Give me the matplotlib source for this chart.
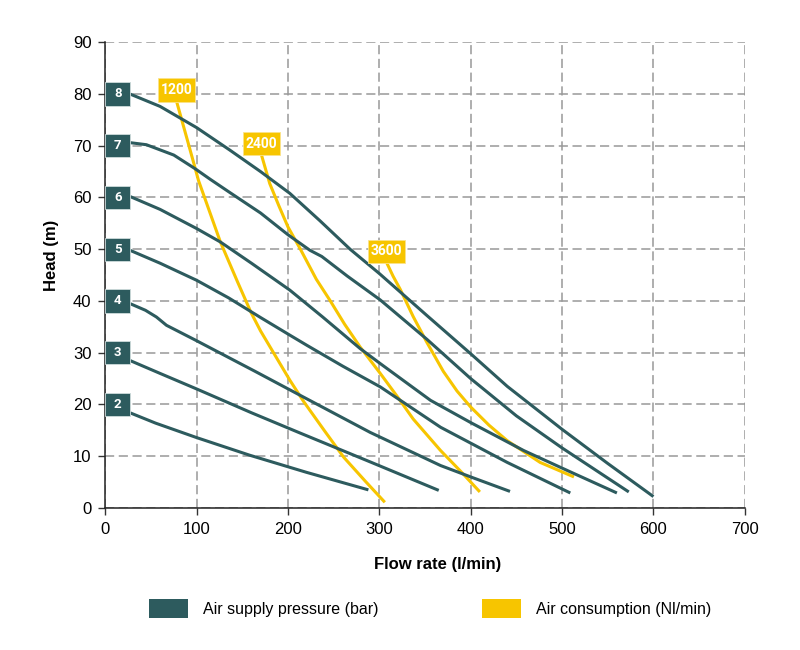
import matplotlib
matplotlib.use('Agg')
import matplotlib.pyplot as plt
from matplotlib.patches import Rectangle, Patch

# Curvas de pressão de ar (bar): vazão (l/min) x altura (m)
flow_2 = [27, 55, 100, 158, 220, 288]
head_2 = [18.4, 16.4, 13.6, 10.2, 6.9, 3.5]

flow_3 = [27, 60, 100, 160, 213, 290, 365]
head_3 = [28.5, 26.0, 23.0, 18.4, 14.5, 8.9, 3.4]

flow_4 = [27, 44, 56, 67, 98, 164, 213, 290, 367, 400, 443]
head_4 = [39.5, 38.2, 36.9, 35.3, 32.5, 26.4, 21.8, 14.6, 8.2, 6.0, 3.2]

flow_5 = [27, 60, 100, 135, 170, 202, 221, 260, 301, 323, 367, 440, 509]
head_5 = [49.8, 47.3, 44.0, 40.6, 36.8, 33.4, 31.4, 27.4, 23.4, 20.8, 15.6, 8.8, 2.9]

flow_6 = [27, 60, 100, 126, 160, 202, 238, 279, 301, 356, 400, 458, 510, 560]
head_6 = [60.2, 57.7, 54.0, 51.4, 47.3, 42.1, 36.9, 30.8, 27.9, 20.8, 16.5, 11.1, 6.9, 2.9]

flow_7 = [27, 45, 75, 98, 115, 136, 170, 200, 224, 237, 265, 301, 352, 400, 450, 500, 573]
head_7 = [70.6, 70.2, 68.2, 65.6, 63.5, 61.0, 57.0, 52.8, 49.8, 48.6, 44.8, 40.2, 32.6, 25.0, 17.8, 11.6, 3.1]

flow_8 = [27, 60, 100, 136, 170, 202, 235, 268, 300, 352, 400, 440, 500, 550, 600]
head_8 = [80.0, 77.6, 73.5, 69.2, 65.0, 60.8, 55.5, 50.0, 45.3, 37.2, 29.8, 23.5, 15.2, 8.6, 2.2]

pressures = [2, 3, 4, 5, 6, 7, 8]
pressure_flows = [flow_2, flow_3, flow_4, flow_5, flow_6, flow_7, flow_8]
pressure_heads = [head_2, head_3, head_4, head_5, head_6, head_7, head_8]

# Curvas de consumo de ar (Nl/min)
flow_1200 = [78, 90, 98, 102, 126, 145, 160, 170, 202, 217, 240, 261, 285, 306]
head_1200 = [78.6, 71.0, 65.9, 63.3, 51.4, 43.6, 37.6, 34.2, 24.7, 20.6, 14.9, 9.8, 5.1, 1.1]

flow_2400 = [171, 180, 190, 200, 213, 231, 246, 262, 279, 301, 321, 337, 367, 390, 410]
head_2400 = [68.2, 62.7, 58.4, 54.3, 50.2, 44.2, 40.1, 35.5, 31.1, 26.0, 21.2, 17.2, 11.1, 6.9, 3.1]

flow_3600 = [308, 315, 323, 337, 352, 370, 385, 400, 420, 440, 476, 513]
head_3600 = [47.4, 44.8, 42.2, 37.0, 32.0, 26.4, 22.6, 19.5, 16.0, 13.0, 8.8, 6.0]

consumptions = ['1200', '2400', '3600']
cons_flows = [flow_1200, flow_2400, flow_3600]
cons_heads = [head_1200, head_2400, head_3600]

x_ticks = [0, 100, 200, 300, 400, 500, 600, 700]
y_ticks = [0, 10, 20, 30, 40, 50, 60, 70, 80, 90]

teal = '#2d5b5e'
yellow = '#f7c500'

plt.rcParams['font.family'] = ['Liberation Sans', 'DejaVu Sans']

fig = plt.figure(figsize=(8, 6.5), dpi=100)
ax = fig.add_axes([0.1316, 0.2185, 0.7994, 0.7165])

for fl, hd in zip(cons_flows, cons_heads):
    ax.plot(fl, hd, color=yellow, linewidth=2.2, zorder=3, solid_capstyle='butt')

for fl, hd in zip(pressure_flows, pressure_heads):
    ax.plot(fl, hd, color=teal, linewidth=2.2, zorder=4, solid_capstyle='butt')

# Etiquetas de pressão (caixas na borda esquerda)
box_w, box_h = 27.4, 4.5
for p in pressures:
    ax.add_patch(Rectangle((0, p * 10 - box_h / 2), box_w, box_h, facecolor=teal,
                           edgecolor='#cfdcdc', linewidth=0.6, zorder=6, clip_on=False))
    ax.text(box_w / 2, p * 10, str(p), color='white', fontsize=9.5, fontweight='bold',
            family=['Roboto', 'DejaVu Sans'], ha='center', va='center', zorder=7)

# Etiquetas de consumo
cbox_w = 40.2
for lab, fl, hd in zip(consumptions, cons_flows, cons_heads):
    cx, cy = fl[0], hd[0] + 2.2
    ax.add_patch(Rectangle((cx - cbox_w / 2, cy - box_h / 2), cbox_w, box_h, facecolor=yellow,
                           edgecolor='#fbe38a', linewidth=0.6, zorder=6))
    ax.text(cx, cy, lab, color='white', fontsize=10, fontweight='bold',
            family=['Roboto', 'DejaVu Sans'], ha='center', va='center', zorder=7)

ax.set_xlim(0, 700)
ax.set_ylim(0, 90)
ax.set_xticks(x_ticks)
ax.set_yticks(y_ticks)
ax.tick_params(labelsize=12, length=5, width=1, color='#333333', pad=5)
ax.grid(True, color='#999999', linestyle=(0, (6, 3)), linewidth=1.1, zorder=1)
ax.set_axisbelow(True)
for s in ['top', 'right']:
    ax.spines[s].set_visible(False)
for s in ['left', 'bottom']:
    ax.spines[s].set_color('#222222')
    ax.spines[s].set_linewidth(1.1)

ax.set_xlabel('Flow rate (l/min)', fontsize=12, fontweight='bold')
ax.set_ylabel('Head (m)', fontsize=12, fontweight='bold')
ax.xaxis.set_label_coords(0.52, -0.105)
ax.yaxis.set_label_coords(-0.072, 0.543)

handles = [Patch(facecolor=teal, edgecolor='none', label='Air supply pressure (bar)'),
           Patch(facecolor=yellow, edgecolor='none', label='Air consumption (Nl/min)')]
fig.legend(handles=handles, loc='center left', bbox_to_anchor=(0.186, 0.064), ncol=2,
           frameon=False, fontsize=11.5, handlelength=2.47, handleheight=1.4,
           handletextpad=0.9, columnspacing=6.5, borderpad=0, borderaxespad=0)

fig.savefig('out.png', dpi=100)
